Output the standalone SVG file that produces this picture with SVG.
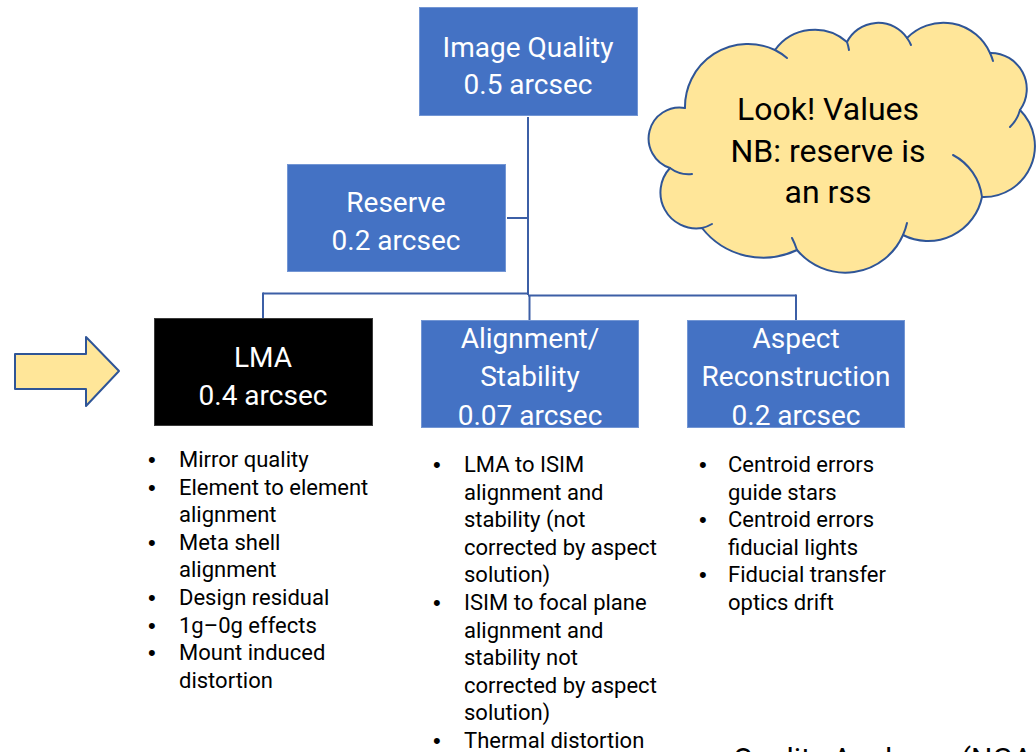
<svg xmlns="http://www.w3.org/2000/svg" width="1036" height="752" viewBox="0 0 1036 752">
  <style>
    .box { fill: #4472C4; stroke: #7396D4; stroke-width: 1; }
    .boxdark { fill: #000000; stroke: #3A3A3A; stroke-width: 1; }
    .label { font-family: Roboto, "Liberation Sans", sans-serif; font-size: 28px; fill: #FFFFFF; text-anchor: middle; }
    .wire { fill: none; stroke: #3C5FA6; stroke-width: 2; }
    .callout { fill: #FFE699; stroke: #2F5597; stroke-width: 2; stroke-linejoin: round; }
    .tail { fill: none; stroke: #2F5597; stroke-width: 2; stroke-linecap: round; }
    .note { font-family: Roboto, "Liberation Sans", sans-serif; font-size: 32px; fill: #000000; text-anchor: middle; }
    .item { font-family: Roboto, "Liberation Sans", sans-serif; font-size: 22px; fill: #000000; }
    .dot { font-family: "Liberation Sans", sans-serif; font-size: 22px; fill: #000000; }
  </style>

  <!-- tree connectors -->
  <g id="connectors">
    <path class="wire" d="M528 117 V295"/>
    <path class="wire" d="M507 218 H528"/>
    <path class="wire" d="M263 293.5 H528"/>
    <path class="wire" d="M528 295.5 H796"/>
    <path class="wire" d="M263 292.5 V318"/>
    <path class="wire" d="M529.5 295 V320"/>
    <path class="wire" d="M796 294.5 V320"/>
  </g>

  <g id="image-quality">
    <rect class="box" x="419.5" y="7.5" width="218" height="108"/>
    <text class="label" x="528" y="57">Image Quality</text>
    <text class="label" x="528" y="94">0.5 arcsec</text>
  </g>

  <g id="reserve">
    <rect class="box" x="287.5" y="164.5" width="218" height="107"/>
    <text class="label" x="396" y="212">Reserve</text>
    <text class="label" x="396" y="250">0.2 arcsec</text>
  </g>

  <g id="lma">
    <rect class="boxdark" x="154.5" y="318.5" width="218" height="107"/>
    <text class="label" x="263" y="367">LMA</text>
    <text class="label" x="263" y="405">0.4 arcsec</text>
  </g>

  <g id="alignment">
    <rect class="box" x="421.5" y="320.5" width="217" height="107"/>
    <text class="label" x="530" y="348">Alignment/</text>
    <text class="label" x="530" y="386">Stability</text>
    <text class="label" x="530" y="425">0.07 arcsec</text>
  </g>

  <g id="aspect">
    <rect class="box" x="687.5" y="320.5" width="217" height="107"/>
    <text class="label" x="796" y="348">Aspect</text>
    <text class="label" x="796" y="386">Reconstruction</text>
    <text class="label" x="796" y="425">0.2 arcsec</text>
  </g>

  <!-- block arrow pointing at LMA -->
  <g id="pointer">
    <path class="callout" d="M15 354 H86 V337 L119 371 L86 406 V389 H15 Z"/>
  </g>

  <!-- cloud callout -->
  <g id="cloud">
    <path class="callout" d="M685 108 A63 63 0 0 1 775 50 A49 49 0 0 1 847 42 A35 35 0 0 1 907 38 A51 51 0 0 1 990 53 A36 36 0 0 1 1020 110 A51 51 0 0 1 982 197 A55 55 0 0 1 903 235 A63 63 0 0 1 797 250 A78 78 0 0 1 702 228 A36 36 0 0 1 670 168 A31 31 0 0 1 685 108 Z"/>
    <path class="tail" d="M775 50 A63 63 0 0 1 787 58"/>
    <path class="tail" d="M847 42 A49 49 0 0 1 849 50"/>
    <path class="tail" d="M907 38 A35 35 0 0 1 911 45"/>
    <path class="tail" d="M990 53 A51 51 0 0 1 993 61"/>
    <path class="tail" d="M1020 110 A36 36 0 0 1 1010 127"/>
    <path class="tail" d="M953 155 A55 55 0 0 1 982 197"/>
    <path class="tail" d="M907 223 A63 63 0 0 1 903 235"/>
    <path class="tail" d="M792 238 A78 78 0 0 1 797 250"/>
    <path class="tail" d="M712 224 A36 36 0 0 1 702 228"/>
    <path class="tail" d="M692 174 A31 31 0 0 1 670 168"/>
    <text class="note" x="828" y="120">Look! Values</text>
    <text class="note" x="828" y="162">NB: reserve is</text>
    <text class="note" x="828" y="203">an rss</text>
  </g>

  <!-- LMA contributors -->
  <g id="lma-list">
    <text class="dot" x="148" y="467">•</text>
    <text class="item" x="179" y="467">Mirror quality</text>
    <text class="dot" x="148" y="494.6">•</text>
    <text class="item" x="179" y="494.6">Element to element</text>
    <text class="item" x="179" y="522.2">alignment</text>
    <text class="dot" x="148" y="549.8">•</text>
    <text class="item" x="179" y="549.8">Meta shell</text>
    <text class="item" x="179" y="577.4">alignment</text>
    <text class="dot" x="148" y="605">•</text>
    <text class="item" x="179" y="605">Design residual</text>
    <text class="dot" x="148" y="632.6">•</text>
    <text class="item" x="179" y="632.6">1g–0g effects</text>
    <text class="dot" x="148" y="660.2">•</text>
    <text class="item" x="179" y="660.2">Mount induced</text>
    <text class="item" x="179" y="687.8">distortion</text>
  </g>

  <!-- alignment / stability contributors -->
  <g id="alignment-list">
    <text class="dot" x="433" y="472">•</text>
    <text class="item" x="464" y="472">LMA to ISIM</text>
    <text class="item" x="464" y="499.6">alignment and</text>
    <text class="item" x="464" y="527.2">stability (not</text>
    <text class="item" x="464" y="554.8">corrected by aspect</text>
    <text class="item" x="464" y="582.4">solution)</text>
    <text class="dot" x="433" y="610">•</text>
    <text class="item" x="464" y="610">ISIM to focal plane</text>
    <text class="item" x="464" y="637.6">alignment and</text>
    <text class="item" x="464" y="665.2">stability not</text>
    <text class="item" x="464" y="692.8">corrected by aspect</text>
    <text class="item" x="464" y="720.4">solution)</text>
    <text class="dot" x="433" y="748">•</text>
    <text class="item" x="464" y="748">Thermal distortion</text>
  </g>

  <!-- aspect reconstruction contributors -->
  <g id="aspect-list">
    <text class="dot" x="699" y="472">•</text>
    <text class="item" x="728" y="472">Centroid errors</text>
    <text class="item" x="728" y="499.6">guide stars</text>
    <text class="dot" x="699" y="527.2">•</text>
    <text class="item" x="728" y="527.2">Centroid errors</text>
    <text class="item" x="728" y="554.8">fiducial lights</text>
    <text class="dot" x="699" y="582.4">•</text>
    <text class="item" x="728" y="582.4">Fiducial transfer</text>
    <text class="item" x="728" y="610">optics drift</text>
  </g>

  <!-- caption running off the lower edge -->
  <text class="item" x="733" y="769" style="font-size:30px">Quality Analyses (NGA</text>
</svg>
